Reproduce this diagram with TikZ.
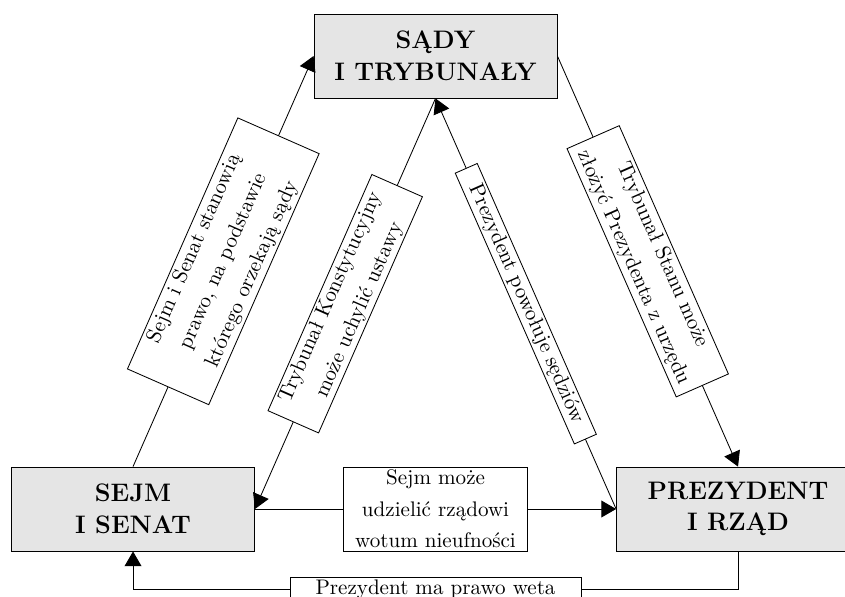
\documentclass[tikz,border=0pt]{standalone}
\usepackage{fontspec}
\usetikzlibrary{arrows.meta}

\begin{document}
\begin{tikzpicture}[
inst/.style={draw, fill=gray!20, minimum width=\w cm, minimum height=\h cm, align=center, font=\fontsize{12}{15}\selectfont\bfseries},
rel/.style={draw, fill=white, inner sep=1pt, align=center, font=\fontsize{10}{15}\selectfont},
arr/.style={-{Triangle[length=7pt, width=8pt]}}
]

\def\w{4.05}
\def\h{1.4}

\clip (0,0) rectangle (14.083,-9.933);

%%% institutions
\node[inst] (sady) at (7.258,-0.933) {SĄDY\\I TRYBUNAŁY};
\node[inst] (sejm) at (2.217,-8.483) {SEJM\\I SENAT};
\node[inst] (prez) at (12.3,-8.483) {PREZYDENT\\I RZĄD};

%%% relations
\draw[arr] (sejm.north) -- node[rel, sloped, text width=4.5cm, minimum height=1.48cm]
	{Sejm i Senat stanowią\\prawo, na podstawie\\którego orzekają sądy} (sady.west);
\draw[arr] (sady.south) -- node[rel, sloped, text width=4.23cm, minimum height=.92cm]
	{Trybunał Konstytucyjny\\może uchylić ustawy} (sejm.east);
\draw[arr] (prez.west) -- node[rel, sloped, text width=4.86cm, minimum height=.4cm]
	{Prezydent powołuje sędziów} (sady.south);
\draw[arr] (sady.east) -- node[rel, sloped, text width=4.45cm, minimum height=.95cm]
	{Trybunał Stanu może\\złożyć Prezydenta z urzędu} (prez.north);
\draw[arr] (sejm.east) -- node[rel, text width=3cm, minimum height=1.4cm]
	{Sejm może\\udzielić rządowi\\wotum nieufności} (prez.west);

%%% veto
\draw[arr] (prez.south) -- ++(0,-.633) -| node[rel, pos=.25, text width=4.78cm, minimum height=.4cm]
	{Prezydent ma prawo weta} (sejm.south);

\end{tikzpicture}
\end{document}
